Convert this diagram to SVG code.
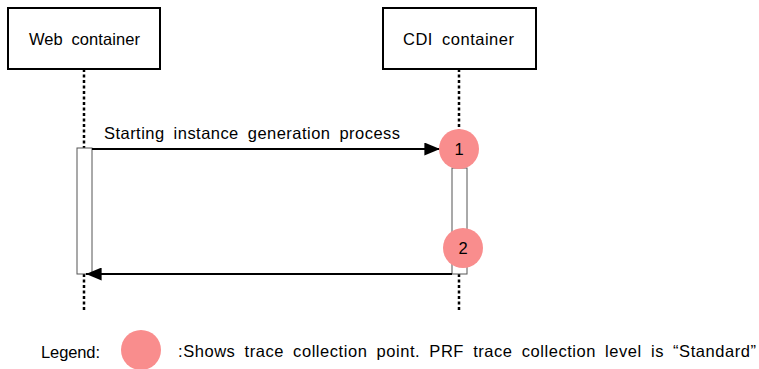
<svg xmlns="http://www.w3.org/2000/svg" width="759" height="369" viewBox="0 0 759 369">
<style>
.box{fill:#fff;stroke:#000;stroke-width:2}
.life{stroke:#000;stroke-width:2.5;stroke-dasharray:3,2.5;fill:none}
.act{fill:#fff;stroke:#555;stroke-width:1}
.msg{stroke:#000;stroke-width:2;fill:none}
.pt{fill:#F98D8D}
text{font-family:"Liberation Sans",Arial,sans-serif;font-size:16.5px;fill:#000}
.ws{word-spacing:4px}
</style>
<defs>
<marker id="ah" viewBox="0 0 12 10" refX="12" refY="5" markerWidth="18" markerHeight="13" markerUnits="userSpaceOnUse" orient="auto">
<path d="M0,0 L12,5 L0,10 z" fill="#000"/>
</marker>
</defs>
<g id="web">
<rect class="box" x="8" y="8" width="152" height="61"/>
<text class="ws" x="29" y="45" textLength="111" lengthAdjust="spacing">Web container</text>
</g>
<g id="cdi">
<rect class="box" x="383" y="8" width="153" height="61"/>
<text class="ws" x="403" y="45" textLength="111" lengthAdjust="spacing">CDI container</text>
</g>
<g id="lifelines">
<line class="life" x1="84" y1="69" x2="84" y2="148"/>
<line class="life" x1="84" y1="274" x2="84" y2="310"/>
<line class="life" x1="459" y1="69" x2="459" y2="168"/>
<line class="life" x1="459" y1="274" x2="459" y2="310"/>
</g>
<g id="web-activation"><rect class="act" x="77" y="148" width="15" height="126"/></g>
<g id="cdi-activation"><rect class="act" x="452" y="168" width="15" height="106"/></g>
<g id="connectors">
<line class="msg" x1="92" y1="149" x2="440" y2="149" marker-end="url(#ah)"/>
<text class="ws" x="104" y="139" textLength="296" lengthAdjust="spacing">Starting instance generation process</text>
<line class="msg" x1="452" y1="274" x2="86" y2="274" marker-end="url(#ah)"/>
</g>
<g id="point1">
<circle class="pt" cx="459" cy="149" r="20"/>
<text x="459" y="155" text-anchor="middle">1</text>
</g>
<g id="point2">
<circle class="pt" cx="463" cy="248" r="20"/>
<text x="463" y="254" text-anchor="middle">2</text>
</g>
<g id="legend">
<text x="41" y="358" textLength="59" lengthAdjust="spacing">Legend:</text>
<ellipse class="pt" cx="141" cy="350" rx="20" ry="20"/>
<text class="ws" x="178" y="357" textLength="578" lengthAdjust="spacing">:Shows trace collection point. PRF trace collection level is “Standard”</text>
</g>
</svg>
